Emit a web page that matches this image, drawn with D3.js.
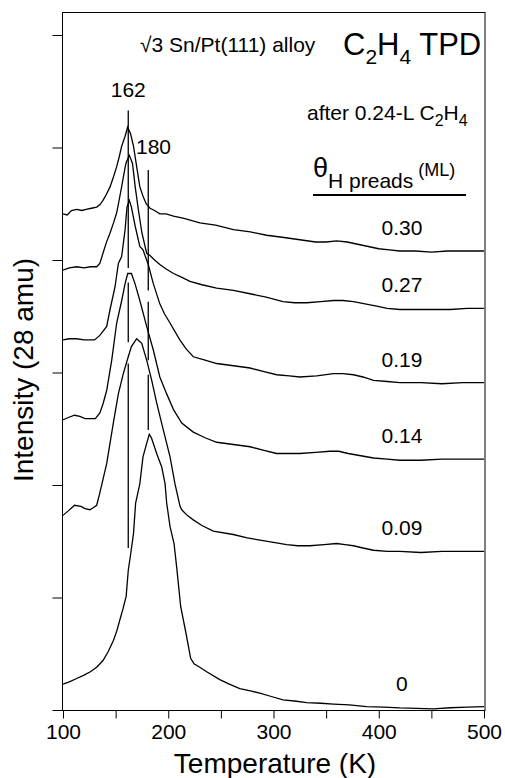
<!DOCTYPE html>
<html>
<head>
<meta charset="utf-8">
<script src="https://cdn.jsdelivr.net/npm/d3@7"></script>
<style>
  body { margin: 0; background: #fff; }
  text { font-family: Arial, "Liberation Sans", sans-serif; fill: #000; }
</style>
</head>
<body>
<div id="chart"></div>
<script>
// TPD traces, [temperature K, intensity in tick units]
var coverages = ["0.30", "0.27", "0.19", "0.14", "0.09", "0"];

var trace030 = [[100,4.41],[104,4.40],[108,4.44],[113,4.45],[118,4.44],[122,4.45],[127,4.46],[132,4.47],[135,4.49],[138,4.53],[141,4.58],[144.7,4.65],[148,4.74],[151,4.83],[153.5,4.92],[155.7,5.01],[159,5.10],[161.4,5.18],[164.3,5.12],[167,5.01],[170,4.83],[173,4.65],[176.3,4.56],[179,4.50],[182.7,4.46],[187,4.44],[192,4.41],[198,4.41],[205,4.39],[215,4.37],[230,4.33],[245,4.31],[262,4.27],[278,4.25],[293.5,4.22],[310,4.20],[325,4.18],[340,4.16],[350,4.16],[360,4.17],[370,4.16],[380,4.14],[390,4.12],[400,4.10],[410,4.09],[420,4.08],[435,4.08],[450,4.07],[465,4.08],[480,4.08],[500,4.08]];

var trace027 = [[100,3.91],[106,3.93],[113,3.94],[120,3.93],[126,3.94],[132,3.94],[135,3.97],[138,4.06],[141,4.15],[144.7,4.24],[148,4.33],[151,4.42],[153.5,4.54],[155.7,4.65],[158,4.77],[159.8,4.86],[163,4.93],[166,4.86],[168.6,4.65],[171.7,4.44],[175,4.24],[179.5,4.06],[182.7,4.04],[187,4.00],[192,3.96],[198,3.92],[205,3.88],[212,3.85],[220.7,3.81],[232,3.78],[246,3.75],[262,3.73],[277.7,3.70],[293,3.67],[309,3.63],[320,3.62],[331.5,3.62],[345,3.63],[357,3.64],[366,3.64],[376,3.63],[387,3.61],[398,3.59],[408,3.57],[420,3.56],[436,3.56],[452,3.56],[468,3.56],[484,3.57],[500,3.57]];

var trace019 = [[100,3.29],[106,3.30],[113,3.30],[120,3.29],[125,3.29],[130,3.29],[135,3.33],[141.5,3.41],[144.7,3.56],[149.4,3.76],[152.6,3.97],[155.7,4.03],[159,4.27],[160.8,4.47],[163,4.53],[165,4.47],[168.6,4.30],[173,4.12],[176,4.09],[181,3.96],[185.8,3.79],[192,3.61],[196.5,3.52],[201.7,3.44],[206,3.37],[211,3.29],[217,3.21],[223.8,3.14],[235,3.11],[246,3.08],[262,3.06],[277.7,3.04],[290,3.01],[303,2.98],[315,2.97],[325,2.96],[341,2.97],[357,2.99],[366,2.99],[376,2.98],[385,2.96],[395,2.93],[408,2.92],[420,2.91],[440,2.91],[460,2.90],[480,2.91],[500,2.91]];

var trace014 = [[100,2.58],[105,2.60],[111,2.62],[116,2.61],[121,2.59],[126,2.59],[130.7,2.59],[135,2.64],[138,2.72],[141.5,2.84],[146.3,3.11],[151,3.44],[155.8,3.64],[159,3.79],[161.5,3.88],[165,3.88],[168.4,3.79],[173,3.64],[179.5,3.41],[185.8,3.20],[192,2.96],[198.5,2.81],[205,2.67],[212.8,2.55],[223.8,2.47],[235,2.42],[246,2.38],[262,2.36],[277.7,2.34],[290,2.31],[303,2.28],[315,2.28],[325,2.28],[340,2.29],[353.7,2.30],[362,2.30],[371,2.28],[383,2.26],[395,2.24],[408,2.23],[420,2.22],[440,2.22],[460,2.23],[480,2.23],[500,2.23]];

var trace009 = [[100,1.73],[105,1.77],[111,1.82],[117,1.81],[121,1.79],[125.6,1.78],[129,1.80],[132,1.82],[135,1.93],[141.5,2.19],[147.8,2.55],[152.6,2.81],[157.3,2.99],[162,3.14],[165,3.23],[170,3.30],[174.8,3.26],[179.5,3.11],[184.3,2.93],[189,2.73],[195.3,2.49],[201.7,2.25],[206.4,2.01],[211.2,1.81],[212.8,1.78],[218,1.73],[223.8,1.69],[232,1.64],[242.8,1.59],[261.8,1.56],[275,1.53],[287.2,1.51],[300,1.49],[312.5,1.47],[323,1.46],[334.7,1.46],[348,1.47],[360,1.48],[368,1.47],[376,1.46],[385,1.44],[395,1.42],[408,1.41],[420,1.41],[440,1.40],[460,1.41],[480,1.41],[500,1.41]];

var trace000 = [[100,0.23],[106,0.25],[113,0.28],[120,0.31],[126,0.34],[132,0.38],[138,0.44],[143,0.52],[148,0.62],[151,0.70],[154,0.80],[157,0.90],[160,1.01],[162,1.24],[164.5,1.40],[167,1.57],[169,1.84],[173,2.01],[176,2.25],[179.5,2.37],[182,2.45],[184,2.42],[189,2.28],[193.8,2.16],[197,2.01],[198.5,1.84],[201.7,1.63],[205.5,1.48],[208,1.27],[211.8,0.92],[216.9,0.68],[221.3,0.46],[224.5,0.41],[230,0.38],[236.5,0.34],[249,0.27],[258,0.23],[268,0.19],[278,0.17],[287,0.15],[298,0.12],[309,0.09],[320,0.08],[331.5,0.065],[345,0.06],[357,0.053],[372,0.045],[388.5,0.03],[405,0.025],[420,0.018],[436,0.015],[452,0.01],[468,0.02],[484,0.025],[500,0.03]];

var traces = [trace030, trace027, trace019, trace014, trace009, trace000];

// peak markers: temperature, label, visible segments [from, to]
var peakTemps = [162, 181];
var peakLabels = ["162", "180"];
var peakSegments = [
  [[5.33, 3.93], [3.80, 3.27], [3.08, 1.44]],
  [[4.80, 3.73], [3.63, 3.11], [2.98, 2.49]]
];

var xTicksMajor = [100, 200, 300, 400, 500];
var xTicksMinor = [150, 250, 350, 450];
var yTicks = [0, 1, 2, 3, 4, 5, 6];

var W = 505, H = 778;
var margin = { top: 12, right: 20, bottom: 68, left: 62 };

var svg = d3.select("#chart")
  .append("svg")
    .attr("width", W)
    .attr("height", H);

var x = d3.scaleLinear().domain([100, 500]).range([63, 484]);
var y = d3.scaleLinear().domain([0, 6.2]).range([710, 12.5]);

// frame
svg.append("rect")
  .attr("x", margin.left + 0.5)
  .attr("y", margin.top + 0.5)
  .attr("width", 485 - margin.left - 0.5)
  .attr("height", 710 - margin.top)
  .attr("fill", "none")
  .attr("stroke", "#000")
  .attr("stroke-width", 1);

// bottom axis
var xAxis = svg.append("g")
  .attr("transform", "translate(0,710.5)")
  .call(d3.axisBottom(x).tickValues(xTicksMajor).tickSize(8).tickSizeOuter(0).tickPadding(6));
xAxis.select(".domain").remove();
xAxis.selectAll("text").style("font-size", "21px").style("font-family", "Arial, 'Liberation Sans', sans-serif");
svg.append("g")
  .attr("transform", "translate(0,710.5)")
  .call(d3.axisBottom(x).tickValues(xTicksMinor).tickSize(8).tickFormat(""))
  .select(".domain").remove();

// left axis, ticks only
var yAxis = svg.append("g")
  .attr("transform", "translate(62.5,0)")
  .call(d3.axisLeft(y).tickValues(yTicks).tickSize(10).tickFormat(""));
yAxis.select(".domain").remove();

// traces
var line = d3.line()
  .x(function(d) { return x(d[0]); })
  .y(function(d) { return y(d[1]); });

svg.selectAll(".trace")
  .data(traces)
  .join("path")
    .attr("class", "trace")
    .attr("d", line)
    .attr("fill", "none")
    .attr("stroke", "#000")
    .attr("stroke-width", 1.3);

// coverage labels sit just above each tail
svg.selectAll(".cov")
  .data(coverages)
  .join("text")
    .attr("class", "cov")
    .attr("x", x(422))
    .attr("y", function(d, i) { var t = traces[i]; return y(t[t.length - 1][1]) - 16; })
    .attr("text-anchor", "middle")
    .style("font-size", "21px")
    .text(function(d) { return d; });

// peak marker lines
peakTemps.forEach(function(T, i) {
  svg.selectAll(".pk" + i)
    .data(peakSegments[i])
    .join("line")
      .attr("x1", x(T)).attr("x2", x(T))
      .attr("y1", function(d) { return y(d[0]); })
      .attr("y2", function(d) { return y(d[1]); })
      .attr("stroke", "#000")
      .attr("stroke-width", 1.3);
});
svg.append("text").attr("x", x(peakTemps[0])).attr("y", 97)
  .attr("text-anchor", "middle").style("font-size", "21px").text(peakLabels[0]);
svg.append("text").attr("x", 136).attr("y", 154)
  .style("font-size", "21px").text(peakLabels[1]);

// annotations
svg.append("text").attr("x", 140).attr("y", 52)
  .style("font-size", "21px").text("\u221A3 Sn/Pt(111) alloy");

var t1 = svg.append("text").attr("x", 343).attr("y", 55).style("font-size", "31px");
t1.append("tspan").text("C");
t1.append("tspan").attr("dy", 9).style("font-size", "21px").text("2");
t1.append("tspan").attr("dy", -9).text("H");
t1.append("tspan").attr("dy", 9).style("font-size", "21px").text("4");
t1.append("tspan").attr("dy", -9).text(" TPD");

var t2 = svg.append("text").attr("x", 307).attr("y", 120).style("font-size", "21px");
t2.append("tspan").text("after 0.24-L C");
t2.append("tspan").attr("dy", 6).style("font-size", "16px").text("2");
t2.append("tspan").attr("dy", -6).text("H");
t2.append("tspan").attr("dy", 6).style("font-size", "16px").text("4");

var t3 = svg.append("text").attr("x", 313).attr("y", 177).style("font-size", "27px");
t3.append("tspan").text("\u03B8");
t3.append("tspan").attr("dy", 11).style("font-size", "21px").text("H preads");
t3.append("tspan").attr("dx", 5).attr("dy", -12).style("font-size", "18px").text("(ML)");

svg.append("line")
  .attr("x1", 313).attr("x2", 466)
  .attr("y1", 195).attr("y2", 195)
  .attr("stroke", "#000").attr("stroke-width", 2);

// axis titles
svg.append("text")
  .attr("x", 275).attr("y", 773)
  .attr("text-anchor", "middle")
  .style("font-size", "28px")
  .text("Temperature (K)");

svg.append("text")
  .attr("transform", "translate(33,370) rotate(-90)")
  .attr("text-anchor", "middle")
  .style("font-size", "28px")
  .text("Intensity (28 amu)");
</script>
</body>
</html>
